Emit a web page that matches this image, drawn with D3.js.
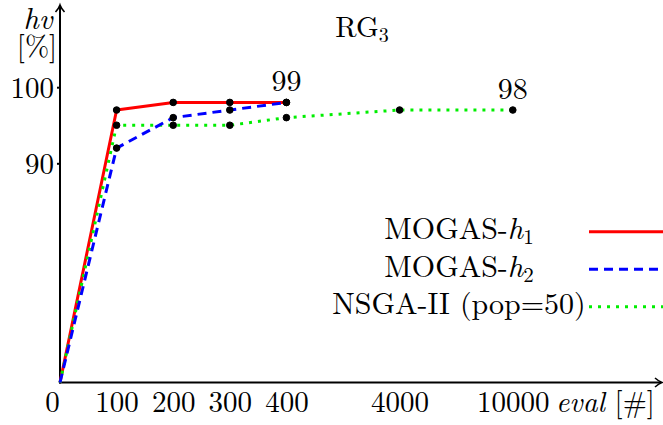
<!DOCTYPE html>
<html lang="en">
<head>
<meta charset="UTF-8">
<title>RG3 hv</title>
<script src="https://d3js.org/d3.v7.min.js"></script>
<style>
    body, html { margin: 0; padding: 0; background: #fff; }
</style>
</head>
<body>
<div id="chart"></div>
<script>
    // data
    const evals = [0, 100, 200, 300, 400, 4000, 10000];
    const hvMin = 61.2, hvMax = 110.8;
    const yTicks = [90, 100];
    const h1Values = [61.2, 97, 98, 98, 98];
    const h2Values = [61.2, 92, 96, 97, 98];
    const nsgaValues = [61.2, 95, 95, 95, 96, 97, 97];
    const seriesNames = [["MOGAS-", "h", "1"], ["MOGAS-", "h", "2"], ["NSGA-II (pop=50)", "", ""]];
    const pointLabels = [
        { eval: 400, hv: 98, text: "99" },
        { eval: 10000, hv: 97, text: "98" }
    ];

    const width = 663, height = 425;
    const x0 = 60, yBase = 382.5, step = 56.6;
    const serif = "Latin Modern Roman";

    const svg = d3.select("#chart").append("svg")
        .attr("width", width).attr("height", height);

    // x axis is piecewise: 0..400 evenly, then 4000 and 10000 at double steps
    const x = d3.scaleLinear()
        .domain([0, 400, 4000, 10000])
        .range([x0, x0 + 4 * step, x0 + 6 * step, x0 + 8 * step]);
    const y = d3.scaleLinear().domain([hvMin, hvMax]).range([yBase, 5]);

    const series = [
        { name: seriesNames[0], values: h1Values, color: "#ff0000", dash: null, order: 0 },
        { name: seriesNames[1], values: h2Values, color: "#0000ff", dash: "9,6", order: 2 },
        { name: seriesNames[2], values: nsgaValues, color: "#00ee00", dash: "3,6", order: 1 }
    ];

    // axes
    const yAxis = svg.append("g")
        .attr("transform", "translate(" + x0 + ",0)")
        .call(d3.axisLeft(y).tickValues(yTicks).tickSize(3).tickPadding(3));
    yAxis.select(".domain").remove();
    yAxis.selectAll(".tick line").attr("stroke", "#000").attr("stroke-width", 2);
    yAxis.selectAll(".tick text").style("font-family", serif).attr("font-size", 29).attr("dy", "0.36em");

    const xAxis = svg.append("g")
        .attr("transform", "translate(0," + yBase + ")")
        .call(d3.axisBottom(x).tickValues(evals).tickFormat(d3.format("d")).tickSize(0).tickPadding(4));
    xAxis.select(".domain").remove();
    xAxis.selectAll(".tick text")
        .style("font-family", serif)
        .attr("font-size", 29)
        .attr("dy", "0.89em")
        .attr("dx", d => d === 0 ? -8 : 0);

    const axisG = svg.append("g").attr("stroke", "#000").attr("fill", "none").attr("stroke-width", 2);
    axisG.append("line").attr("x1", x0).attr("y1", yBase + 1).attr("x2", x0).attr("y2", 6);
    axisG.append("line").attr("x1", x0 - 1).attr("y1", yBase).attr("x2", 661).attr("y2", yBase);
    axisG.append("path").attr("stroke-width", 1.6).attr("d",
        `M${x0 - 4.5},${12} Q${x0 - 1},${8} ${x0},${5} Q${x0 + 1},${8} ${x0 + 4.5},${12}`);
    axisG.append("path").attr("stroke-width", 1.6).attr("d",
        `M${655},${yBase - 4.5} Q${659},${yBase - 1} ${662},${yBase} Q${659},${yBase + 1} ${655},${yBase + 4.5}`);

    function txt(sel) { return sel.append("text").style("font-family", serif); }

    // axis labels
    txt(svg).attr("x", 38).attr("y", 29).attr("font-size", 30)
        .attr("text-anchor", "middle").attr("font-style", "italic").text("hv");
    txt(svg).attr("x", 37).attr("y", 56).attr("font-size", 29)
        .attr("text-anchor", "middle").text("[%]");

    const xl = txt(svg).attr("x", 556).attr("y", 412).attr("font-size", 29);
    xl.append("tspan").attr("font-style", "italic").text("eval");
    xl.append("tspan").text(" [#]");

    // title
    const title = txt(svg).attr("x", 362).attr("y", 37)
        .attr("font-size", 29).attr("text-anchor", "middle");
    title.append("tspan").text("RG");
    title.append("tspan").attr("font-size", 20).attr("dy", 5).text("3");

    // lines
    const line = d3.line()
        .x((d, i) => x(evals[i]))
        .y(d => y(d));

    const drawOrder = series.slice().sort((a, b) => a.order - b.order);
    svg.append("g").selectAll("path")
        .data(drawOrder)
        .enter().append("path")
        .attr("d", d => line(d.values))
        .attr("fill", "none")
        .attr("stroke", d => d.color)
        .attr("stroke-width", 3)
        .attr("stroke-dasharray", d => d.dash)
        .attr("stroke-linejoin", "round");

    // markers (not at the origin)
    drawOrder.forEach(s => {
        svg.append("g").selectAll("circle")
            .data(s.values.map((v, i) => ({ e: evals[i], v: v })).filter(d => d.e > 0))
            .enter().append("circle")
            .attr("cx", d => x(d.e))
            .attr("cy", d => y(d.v))
            .attr("r", 3.3)
            .attr("fill", "#000")
            .attr("stroke", "#000")
            .attr("stroke-width", 1);
    });

    // point annotations
    svg.append("g").selectAll("text")
        .data(pointLabels)
        .enter().append("text")
        .style("font-family", serif)
        .attr("x", d => x(d.eval))
        .attr("y", d => y(d.hv) - 11)
        .attr("font-size", 30)
        .attr("text-anchor", "middle")
        .text(d => d.text);

    // legend
    const legend = svg.append("g");
    const rowY = [231.7, 269.3, 306.7];
    series.forEach((s, i) => {
        const t = txt(legend)
            .attr("x", 459).attr("y", rowY[i] + 7.6)
            .attr("font-size", 30)
            .attr("text-anchor", "middle");
        t.append("tspan").text(s.name[0]);
        if (s.name[1]) {
            t.append("tspan").attr("font-style", "italic").text(s.name[1]);
            t.append("tspan").attr("font-size", 21).attr("dy", 5).text(s.name[2]);
        }
        legend.append("line")
            .attr("x1", 589).attr("x2", 668)
            .attr("y1", rowY[i]).attr("y2", rowY[i])
            .attr("stroke", s.color).attr("stroke-width", 3)
            .attr("stroke-dasharray", s.dash);
    });
</script>
</body>
</html>
